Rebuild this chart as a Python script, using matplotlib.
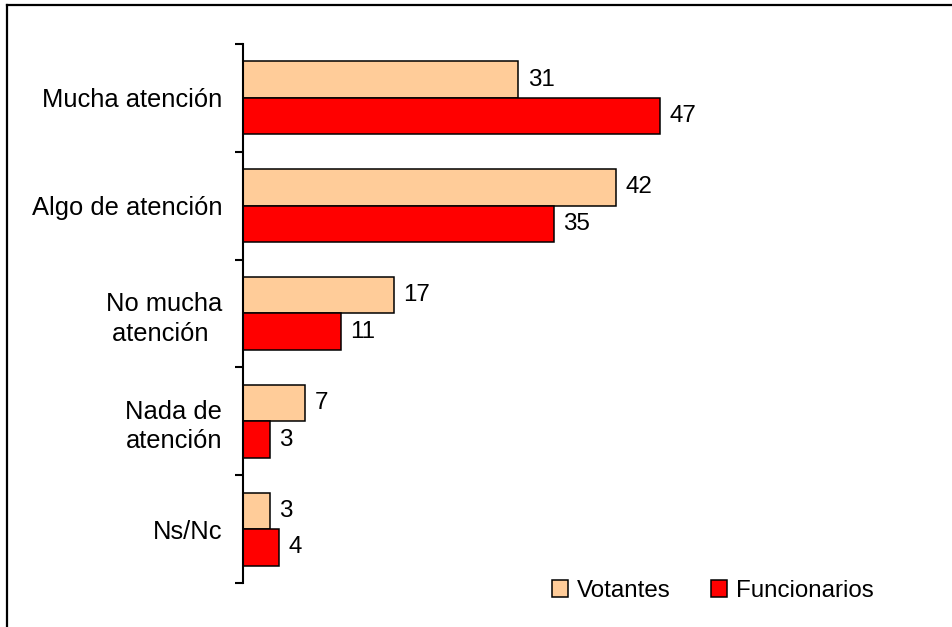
import matplotlib

matplotlib.use("Agg")
import matplotlib.pyplot as plt
import numpy as np
from matplotlib.lines import Line2D
from matplotlib.patches import Patch

plt.rcParams["font.family"] = ["Liberation Sans", "DejaVu Sans"]

categories = ["Mucha atención", "Algo de atención", "No mucha\natención ", "Nada de\natención", "Ns/Nc"]
series_names = ["Votantes", "Funcionarios"]
votantes = [31, 42, 17, 7, 3]
funcionarios = [47, 35, 11, 3, 4]

colors = ["#FFCC99", "#FF0000"]
bar_h = 0.338

fig = plt.figure(figsize=(9.53, 6.27), dpi=100)
ax = fig.add_axes([0.255, 0.0702, 0.745, 0.8596])

y = np.arange(len(categories))
for values, offset, color, name in zip([votantes, funcionarios], [-bar_h / 2, bar_h / 2], colors, series_names):
    bars = ax.barh(y + offset, values, height=bar_h, color=color, edgecolor="black", linewidth=1.1, label=name)
    for rect, v in zip(bars, values):
        ax.annotate(
            str(v),
            (rect.get_width(), rect.get_y() + rect.get_height() / 2),
            xytext=(7, 0),
            textcoords="offset points",
            ha="left",
            va="center",
            fontsize=17.4,
        )

ax.set_xlim(0, 80)
ax.set_ylim(len(categories) - 0.5, -0.5)

for side in ["top", "right", "bottom"]:
    ax.spines[side].set_visible(False)
ax.spines["left"].set_linewidth(1.5)
ax.set_xticks([])

ax.set_yticks(y)
ax.set_yticklabels(categories, fontsize=18.4, multialignment="center", linespacing=1.3)
ax.tick_params(axis="y", which="major", length=0, pad=15)
ax.set_yticks(np.arange(len(categories) + 1) - 0.5, minor=True)
ax.tick_params(axis="y", which="minor", length=5.5, width=1.5)

handles = [Patch(facecolor=c, edgecolor="black", linewidth=1.1) for c in colors]
fig.legend(
    handles,
    series_names,
    loc="center",
    bbox_to_anchor=(0.748, 0.0574),
    ncol=2,
    frameon=False,
    fontsize=17.4,
    handlelength=0.65,
    handleheight=0.65,
    handletextpad=0.35,
    columnspacing=1.7,
)

# outer frame (only top and left edges are visible)
fig.add_artist(Line2D([0.0075, 1.0], [0.9925, 0.9925], transform=fig.transFigure, color="black", linewidth=1.6))
fig.add_artist(Line2D([0.0075, 0.0075], [0.0, 0.9925], transform=fig.transFigure, color="black", linewidth=1.6))

fig.savefig("out.png", dpi=100)
